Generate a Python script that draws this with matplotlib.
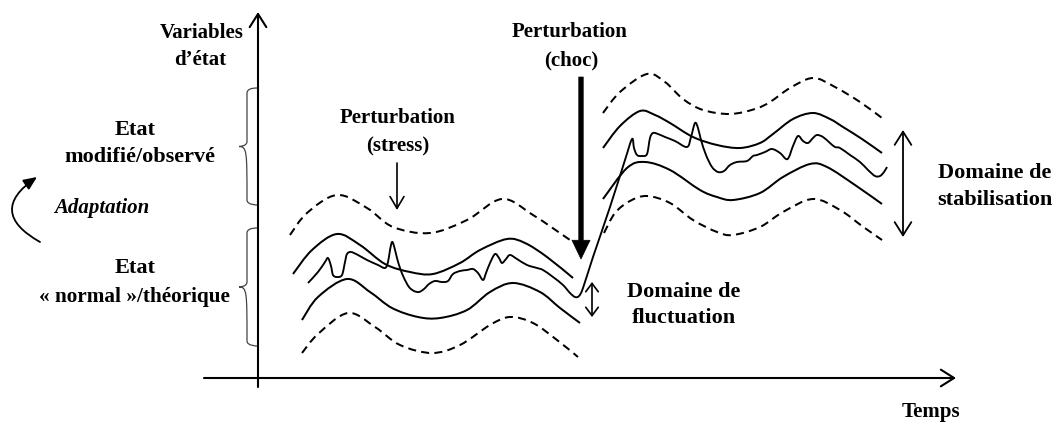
import numpy as np
import matplotlib
matplotlib.use("Agg")
import matplotlib.pyplot as plt
from matplotlib.path import Path
from matplotlib.patches import PathPatch, FancyArrowPatch

plt.rcParams['font.family'] = ['Liberation Serif', 'DejaVu Serif']

# ---------------- data (pixel units, y downwards) ----------------
# left band ("normal" state)
ud_l_x = [290, 307, 337, 367, 393, 430, 467, 502, 533, 570]
ud_l_y = [235, 213, 195, 208, 227, 233, 220, 199, 215, 240]
us_l_x = [293, 312, 337, 360, 385, 410, 433, 460, 480, 507, 525, 547, 573]
us_l_y = [274, 250, 234, 245, 264, 272, 274, 263, 250, 239, 243, 257, 278]
ls_l_x = [302, 318, 347, 370, 392, 418, 440, 467, 490, 513, 540, 560, 580]
ls_l_y = [320, 297, 279, 292, 308, 317, 318, 310, 292, 283, 292, 308, 323]
ld_l_x = [302, 318, 348, 375, 400, 432, 460, 490, 510, 533, 557, 578]
ld_l_y = [353, 334, 313, 327, 345, 353, 345, 325, 317, 323, 340, 357]

# right band (modified state)
ud_r_x = [603, 620, 647, 665, 683, 703, 730, 755, 770, 790, 813, 835, 860, 882]
ud_r_y = [113, 92, 74, 82, 99, 110, 114, 109, 102, 88, 78, 87, 102, 118]
us_r_x = [603, 620, 640, 655, 670, 693, 717, 740, 760, 773, 793, 813, 830, 843, 862, 882]
us_r_y = [148, 126, 111, 115, 123, 137, 145, 148, 143, 134, 119, 113, 119, 127, 139, 153]
ls_r_x = [603, 627, 645, 670, 700, 717, 733, 760, 783, 810, 827, 855, 882]
ls_r_y = [199, 168, 162, 170, 190, 197, 200, 193, 177, 164, 167, 185, 204]
ld_r_x = [604, 615, 630, 647, 670, 693, 717, 733, 760, 783, 813, 840, 862, 882]
ld_r_y = [233, 213, 201, 196, 203, 220, 232, 235, 227, 212, 199, 210, 226, 240]

# observed state variable (noisy trajectory)
obs_x = [308, 318, 325, 328, 331, 333, 337, 342, 345, 347, 351, 358, 367, 378, 385, 388,
         390, 392, 394, 397, 400, 404, 409, 414, 419, 424, 429, 435, 442, 448, 453, 460,
         467, 473, 478, 483, 486, 490, 495, 499, 502, 506, 510, 517, 527, 537, 543, 553,
         563, 570, 575, 579, 583, 593, 610, 625, 632,
         634, 637, 642, 647, 650, 653, 658, 665, 675, 687, 691, 695, 698, 701, 706, 712,
         718, 724, 730, 737, 747, 753, 757, 765, 772, 780, 786, 789, 793, 798, 803, 808,
         813, 817, 823, 830, 835, 840, 850, 860, 868, 875, 880, 884, 887]
obs_y = [283, 272, 262, 258, 266, 275, 277, 275, 262, 254, 252, 255, 260, 265, 268, 262,
         250, 242, 246, 258, 268, 278, 287, 291, 292, 289, 284, 281, 282, 281, 274, 271,
         270, 269, 273, 280, 273, 263, 254, 258, 263, 259, 255, 259, 265, 268, 270, 277,
         285, 293, 297, 296, 288, 257, 207, 160, 139,
         148, 155, 156, 154, 138, 133, 134, 137, 141, 147, 137, 123, 128, 140, 155, 167,
         172, 171, 165, 162, 161, 156, 155, 152, 149, 153, 159, 157, 146, 136, 141, 143,
         138, 135, 137, 143, 147, 148, 155, 162, 170, 176, 176, 172, 167]

braces = [(88, 205), (228, 346)]

# ---------------- figure ----------------
fig = plt.figure(figsize=(10.54, 4.23), dpi=100)
ax = fig.add_axes([0, 0, 1, 1])
ax.set_xlim(0, 1054)
ax.set_ylim(423, 0)
ax.axis('off')


def smooth_path(xs, ys):
    P = np.column_stack([xs, ys]).astype(float)
    n = len(P)
    verts = [P[0]]
    codes = [Path.MOVETO]
    for i in range(n - 1):
        p0 = P[i - 1] if i > 0 else P[i]
        p1, p2 = P[i], P[i + 1]
        p3 = P[i + 2] if i + 2 < n else P[i + 1]
        verts += [p1 + (p2 - p0) / 6.0, p2 - (p3 - p1) / 6.0, p2]
        codes += [Path.CURVE4] * 3
    return Path(verts, codes)


dash = (0, (4.0, 2.6))
for xs, ys, ls in [(ud_l_x, ud_l_y, dash), (us_l_x, us_l_y, '-'), (ls_l_x, ls_l_y, '-'),
                   (ld_l_x, ld_l_y, dash), (ud_r_x, ud_r_y, dash), (us_r_x, us_r_y, '-'),
                   (ls_r_x, ls_r_y, '-'), (ld_r_x, ld_r_y, dash)]:
    ax.add_patch(PathPatch(smooth_path(xs, ys), fill=False, lw=1.45, ls=ls,
                           edgecolor='black', capstyle='butt'))

ax.add_patch(PathPatch(smooth_path(obs_x, obs_y), fill=False, lw=1.35,
                       edgecolor='black', joinstyle='round'))


def arrow(p0, p1, style, lw=1.4, ms=10, **kw):
    ax.add_patch(FancyArrowPatch(p0, p1, arrowstyle=style, mutation_scale=ms, lw=lw,
                                 color='black', shrinkA=0, shrinkB=0, **kw))


# axes
arrow((258, 387), (258, 12), '->,head_length=0.95,head_width=0.6', lw=1.5)
arrow((204, 378), (956, 378), '->,head_length=0.95,head_width=0.6', lw=1.5)

# perturbation arrows
arrow((397, 163), (397, 210), '->,head_length=0.85,head_width=0.5', lw=1.2)
arrow((581, 77), (581, 259), 'simple,head_length=1.35,head_width=1.3,tail_width=0.32',
      lw=0.5)

# domain arrows
arrow((592, 282), (592, 317), '<->,head_length=0.6,head_width=0.45', lw=1.2)
arrow((903, 130), (903, 237), '<->,head_length=0.95,head_width=0.6', lw=1.3)

# adaptation arrow
arrow((40, 242), (37, 177), '-|>,head_length=0.8,head_width=0.35', lw=1.3,
      connectionstyle='arc3,rad=-0.8')

# braces
for top, bot in braces:
    mid = (top + bot) / 2.0
    xr, xl, xt = 257, 247, 239
    verts = [(xr, top), (xl, top), (xl, top + 5), (xl, mid - 5),
             (xl, mid), (xt, mid), (xt, mid),
             (xl, mid), (xl, mid + 5), (xl, bot - 5),
             (xl, bot), (xr, bot), (xr, bot)]
    codes = [Path.MOVETO, Path.CURVE3, Path.CURVE3, Path.LINETO,
             Path.CURVE4, Path.CURVE4, Path.CURVE4,
             Path.CURVE4, Path.CURVE4, Path.LINETO,
             Path.CURVE4, Path.CURVE4, Path.CURVE4]
    ax.add_patch(PathPatch(Path(verts, codes), fill=False, lw=0.9, edgecolor='#444444'))

tk = dict(ha='center', va='center', fontweight='bold', color='black')
ax.text(202, 33, 'Variables', fontsize=15, **tk)
ax.text(200, 60, 'd\u2019état', fontsize=15, **tk)
ax.text(135, 130, 'Etat', fontsize=16, **tk)
ax.text(140, 157, 'modifié/observé', fontsize=16, **tk)
ax.text(102, 208, 'Adaptation', style='italic', fontsize=15, **tk)
ax.text(135, 268, 'Etat', fontsize=16, **tk)
ax.text(134, 297, '« normal »/théorique', fontsize=15.3, **tk)
ax.text(398, 118, 'Perturbation', fontsize=15, **tk)
ax.text(398, 146, '(stress)', fontsize=15, **tk)
ax.text(570, 32, 'Perturbation', fontsize=15, **tk)
ax.text(571, 60, '(choc)', fontsize=15, **tk)
ax.text(684, 292, 'Domaine de', fontsize=16, **tk)
ax.text(684, 318, 'fluctuation', fontsize=16, **tk)
ax.text(995, 173, 'Domaine de', fontsize=16, **tk)
ax.text(995, 200, 'stabilisation', fontsize=16, **tk)
ax.text(931, 412, 'Temps', fontsize=15, **tk)

fig.savefig('out.png', dpi=100)
